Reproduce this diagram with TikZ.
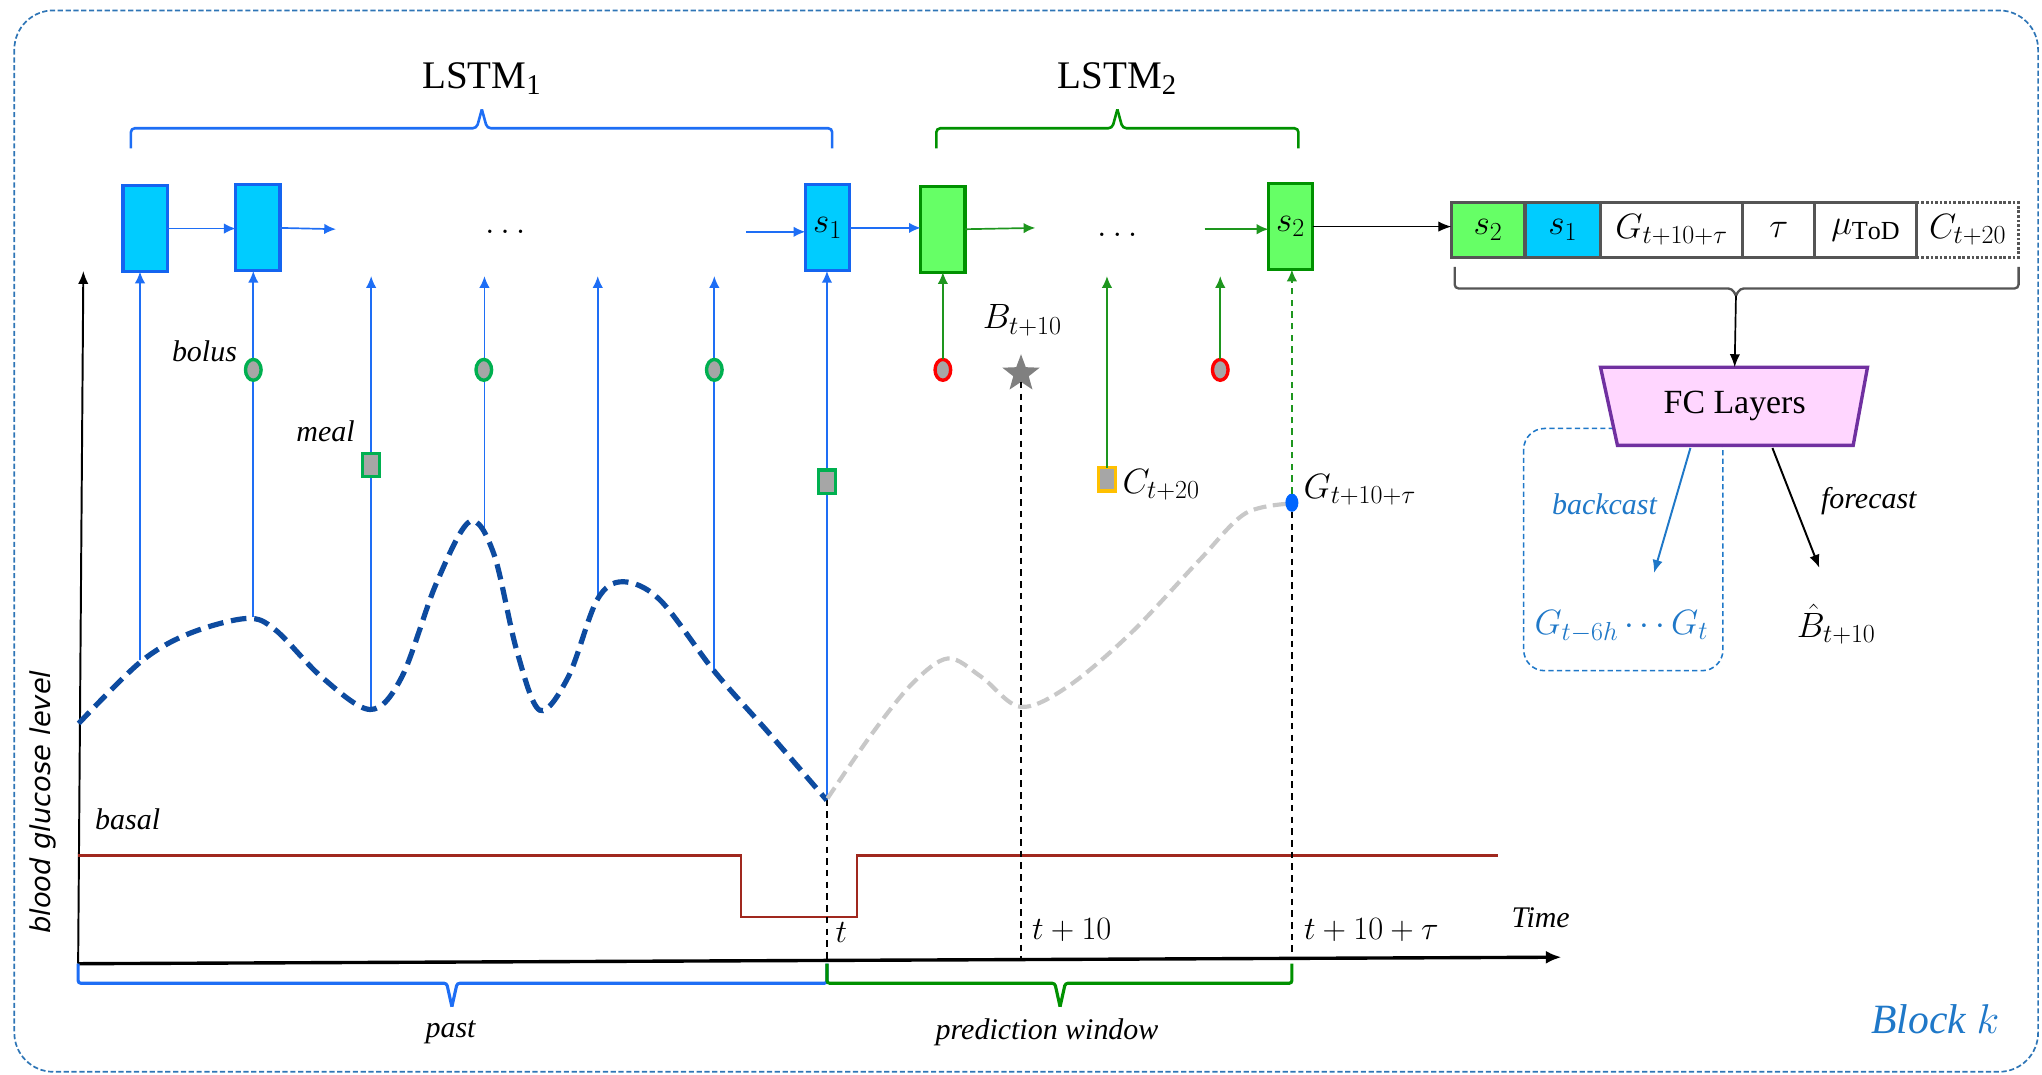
\documentclass[tikz,border=0pt]{standalone}
\usepackage{fix-cm}
\usepackage{fontspec}
\setmainfont{Liberation Serif}
\newfontfamily\dejavu{DejaVu Sans}
\DeclareMathSizes{27}{27}{20}{15}
\DeclareMathSizes{25}{25}{19}{14}
\DeclareMathSizes{30}{30}{22}{16}
\usetikzlibrary{arrows.meta,shapes.geometric,calc}
\definecolor{frameblue}{RGB}{46,117,182}
\definecolor{lineblue}{RGB}{30,110,245}
\definecolor{cellcyan}{RGB}{0,204,255}
\definecolor{boxblue}{RGB}{20,100,240}
\definecolor{cellgreen}{RGB}{102,255,102}
\definecolor{boxgreen}{RGB}{0,145,0}
\definecolor{linegreen}{RGB}{30,150,30}
\definecolor{markgreen}{RGB}{0,176,80}
\definecolor{markgray}{RGB}{166,166,166}
\definecolor{markyellow}{RGB}{255,192,0}
\definecolor{curveblue}{RGB}{13,75,160}
\definecolor{curvegray}{RGB}{200,200,200}
\definecolor{basalred}{RGB}{160,40,30}
\definecolor{fcpurple}{RGB}{112,48,160}
\definecolor{fcpink}{RGB}{255,214,255}
\definecolor{cellborder}{RGB}{85,85,85}
\definecolor{textblue}{RGB}{31,120,200}
\definecolor{dotblue}{RGB}{0,102,255}
\definecolor{stargray}{RGB}{128,128,128}
\begin{document}
\begin{tikzpicture}[x=1pt,y=-1pt,
  every node/.style={inner sep=0pt, outer sep=0pt},
  lstmb/.style={draw=boxblue, fill=cellcyan, line width=2.4pt, minimum width=34pt, minimum height=66pt, font=\fontsize{27}{29}\selectfont},
  lstmg/.style={draw=boxgreen, fill=cellgreen, line width=2.4pt, minimum width=34pt, minimum height=66pt, font=\fontsize{27}{29}\selectfont},
  arrb/.style={draw=lineblue, line width=1.3pt, -{Latex[length=9pt,width=8pt]}},
  arrg/.style={draw=linegreen, line width=1.3pt, -{Latex[length=9pt,width=8pt]}},
  arrk/.style={draw=black, line width=1.3pt, -{Latex[length=10pt,width=8pt]}},
  bolusmk/.style={ellipse, draw=markgreen, fill=markgray, line width=2.6pt, minimum width=12pt, minimum height=16pt},
  bolusred/.style={bolusmk, draw=red},
  mealmk/.style={rectangle, draw=markgreen, fill=markgray, line width=2.6pt, minimum width=13pt, minimum height=18pt},
  carbmk/.style={mealmk, draw=markyellow},
  cell/.style={draw=cellborder, line width=2.4pt, minimum height=42pt, font=\fontsize{27}{29}\selectfont},
  mlbl/.style={font=\fontsize{27}{29}\selectfont},
  tlbl/.style={font=\fontsize{25}{27}\selectfont},
  itl/.style={font=\fontsize{23}{25}\selectfont\itshape},
  bigl/.style={font=\fontsize{30}{32}\selectfont},
  bracketb/.style={draw=lineblue, line width=2pt, rounded corners=3pt},
  bracketg/.style={draw=boxgreen, line width=2pt, rounded corners=3pt},
  kdash/.style={draw=black, line width=1.2pt, dash pattern=on 5pt off 4pt},
]
\useasboundingbox (0,0) rectangle (1568,825);
% outer frame
\draw[frameblue, line width=1.3pt, dash pattern=on 4pt off 2pt, rounded corners=30pt] (11,8) rectangle (1565,823);

% ---- coordinates
\coordinate (O) at (60,740);
\coordinate (ytop) at (64,208);
\coordinate (xend) at (1199,735);
\coordinate (tA) at (635,739);
\coordinate (tB) at (784,737);
\coordinate (tC) at (992,736);
\coordinate (c1) at (107.5,507);
\coordinate (c2) at (194.5,474);
\coordinate (c3) at (285,544);
\coordinate (c4) at (372,410);
\coordinate (c5) at (459,460);
\coordinate (c6) at (548.5,516);
\coordinate (c7) at (635,614);

% ---- LSTM cells
\node[lstmb] (b1) at (111.4,175.5) {};
\node[lstmb] (b2) at (198,175) {};
\node[lstmb] (s1) at (635.4,175) {$s_1$};
\node[lstmg] (g1) at (724,176) {};
\node[lstmg] (s2) at (991,174) {$s_2$};
\coordinate (b2out) at (258,176);
\coordinate (s1in) at (573,178);
\coordinate (g1out) at (795,175);
\coordinate (s2in) at (925,176);
\node[mlbl] (dots1) at (388,178) {$\ldots$};
\node[mlbl] (dots2) at (858,180) {$\ldots$};

\draw[arrb] (b1.east) -- (b1.east -| b2.west);
\draw[arrb] (b2.east) -- (b2out);
\draw[arrb] (s1in) -- (s1in -| s1.west);
\draw[arrb] (s1.east) -- (s1.east -| g1.west);
\draw[arrg] (g1.east) -- (g1out);
\draw[arrg] (s2in) -- (s2in -| s2.west);

% braces on top
\node[bigl] (l1) at (370,60) {LSTM$_{\mathrm{1}}$};
\node[bigl] (l2) at (858,60) {LSTM$_{\mathrm{2}}$};
\draw[bracketb] (100.5,114) -- (100.5,98.5) -- (366,98.5) -- (370,84);
\draw[bracketb] (370,84) -- (374,98.5) -- (639,98.5) -- (639,114);
\draw[bracketg] (719,114) -- (719,98.5) -- (854,98.5) -- (858,84);
\draw[bracketg] (858,84) -- (862,98.5) -- (997,98.5) -- (997,114);

% ---- axes
\draw[black, line width=1.5pt, -{Latex[length=10pt,width=8pt]}] (O) -- (ytop);
\draw[black, line width=2.6pt, -{Latex[length=12pt,width=10pt]}] (O) -- (xend);

% basal
\draw[basalred, line width=2pt] (60,657) -- (569,657) -- (569,704) -- (658,704) -- (658,657) -- (1150,657);

% dashed verticals
\draw[kdash] (c7) -- (tA);

% ---- vertical blue inputs
\draw[arrb] (c1) -- (c1 |- b1.south);
\draw[arrb] (c2) -- (c2 |- b2.south);
\draw[arrb] (c3) -- (285,212);
\draw[arrb] (c4) -- (372,212);
\draw[arrb] (c5) -- (459,212);
\draw[arrb] (c6) -- (548.5,212);
\draw[arrb] (c7) -- (c7 |- s1.south);

% ---- curves
\draw[curveblue, line width=4pt, dash pattern=on 12pt off 6pt] plot[smooth, tension=0.55] coordinates {
 (60.4,555.5) (108,508.2) (145.5,486.4) (189.5,474.9) (211.6,483.8) (246.8,519.7) (284.3,544.8)
 (308.6,519.7) (335,448) (360.6,400.6) (379.1,425) (396.7,499.2) (414.4,545.3) (436.4,519.7)
 (458.4,460.8) (478.3,446.7) (506.9,460.8) (548.8,515.8) (590.7,563.2) (634.8,614.4)};
\draw[curvegray, line width=3.2pt, dash pattern=on 10pt off 5pt] plot[smooth, tension=0.55] coordinates {
 (635.4,613.1) (669.7,563.2) (700.6,524.8) (727.9,505.6) (753.5,519.7) (783.5,542.7)
 (819.6,527.4) (868.1,486.4) (921,430.1) (956.3,394.2) (992.4,386.6)};

% ---- markers past
\node[bolusmk] (bo1) at (194.5,284) {};
\node[bolusmk] (bo2) at (371.5,284) {};
\node[bolusmk] (bo3) at (548.5,284) {};
\node[mealmk] (me1) at (285,357) {};
\node[mealmk] (me2) at (635,370) {};
\node[itl] (bolus) at (157,270) {bolus};
\node[itl] (meal) at (250,331) {meal};

% ---- prediction window inputs
\node[bolusred] (r1) at (724,284) {};
\node[bolusred] (r2) at (937,284) {};
\node[carbmk] (cy) at (850,368) {};
\node[ellipse, fill=dotblue, minimum width=10pt, minimum height=14pt] (dot) at (992,386) {};
\node[star, star points=5, star point ratio=2.4, fill=stargray, minimum size=30pt] (star) at (784,287) {};
\draw[arrg] (r1.north) -- (r1.north |- g1.south);
\draw[arrg] (cy.north) -- (850,212);
\draw[arrg] (r2.north) -- (937,212);
\draw[arrg, dash pattern=on 5pt off 4pt] (dot.north) -- (dot.north |- s2.south);
\draw[kdash] (star.south) -- (tB);
\draw[kdash] (dot.south) -- (tC);

\node[mlbl] (Blbl) at (785,246) {$B_{t+10}$};
\node[mlbl, anchor=west] (Clbl) at (862,372) {$C_{t+20}$};
\node[mlbl, anchor=west] (Glbl) at (1001,376) {$G_{t+10+\tau}$};

% axis labels
\node[font=\fontsize{21}{23}\selectfont\dejavu\itshape, rotate=90] (ylbl) at (33,616) {blood glucose level};
\node[itl] (basal) at (98,629) {basal};
\node[itl] (time) at (1183,705) {Time};
\node[tlbl] (tl) at (646,716) {$t$};
\node[tlbl] (t10) at (823,714) {$t+10$};
\node[tlbl] (t10tau) at (1053,714) {$t+10+\tau$};

% bottom braces
\draw[draw=lineblue, line width=2.4pt, rounded corners=2pt] (60,740) -- (60,755) -- (343,755) -- (347,773);
\draw[draw=lineblue, line width=2.4pt, rounded corners=2pt] (347,773) -- (351,755) -- (635,755) -- (635,740);
\draw[draw=boxgreen, line width=2.4pt, rounded corners=2pt] (635,740) -- (635,755) -- (810,755) -- (814,773);
\draw[draw=boxgreen, line width=2.4pt, rounded corners=2pt] (814,773) -- (818,755) -- (992,755) -- (992,740);
\node[itl] (past) at (346,793) {past};
\node[itl] (pw) at (804,793) {prediction window};
\node[font=\fontsize{32}{34}\selectfont\itshape, text=textblue] (blk) at (1486,783) {Block $k$};

% ---- vector
\node[cell, dash pattern=on 2pt off 1.5pt, minimum width=78pt] (vc) at (1510.9,176.6) {$C_{t+20}$};
\node[cell, fill=cellgreen, minimum width=56.6pt] (vs2) at (1142.7,176.6) {$s_2$};
\node[cell, fill=cellcyan, minimum width=58pt] (vs1) at (1200,176.6) {$s_1$};
\node[cell, minimum width=109pt] (vg) at (1283.6,176.6) {$G_{t+10+\tau}$};
\node[cell, minimum width=55.4pt] (vt) at (1365.9,176.6) {$\tau$};
\node[cell, minimum width=78.3pt] (vm) at (1432.7,176.6) {$\mu_{\mathrm{ToD}}$};
\draw[draw=black, line width=0.9pt, -{Latex[length=10pt,width=8pt]}] (s2.east) -- (s2.east -| vs2.west);

% brace under vector
\coordinate (vtip) at (1333,227);
\draw[draw=cellborder, line width=1.8pt, rounded corners=3pt] (1117,205) -- (1117,221.5) -- (1330,221.5) -- (vtip);
\draw[draw=cellborder, line width=1.8pt, rounded corners=3pt] (vtip) -- (1336,221.5) -- (1550,221.5) -- (1550,205);

% backcast dashed box
\draw[draw=textblue, line width=1.2pt, dash pattern=on 4pt off 2.5pt, rounded corners=16pt] (1170,329) rectangle (1323,515);

% FC layers
\draw[draw=fcpurple, fill=fcpink, line width=2.6pt] (1229,282) -- (1434,282) -- (1423,342) -- (1242,342) -- cycle;
\node[font=\fontsize{26}{28}\selectfont, minimum width=181pt, minimum height=60pt] (fc) at (1332,312) {FC Layers};
\draw[arrk] (vtip) -- (fc.north);

\coordinate (bcs) at (1298,344);
\coordinate (bce) at (1270,440);
\coordinate (fcs) at (1361,344);
\coordinate (fce) at (1397,436);
\draw[draw=textblue, line width=1.5pt, -{Latex[length=10pt,width=8pt]}] (bcs) -- (bce);
\draw[draw=black, line width=1.5pt, -{Latex[length=10pt,width=8pt]}] (fcs) -- (fce);
\node[itl, text=textblue] (bclbl) at (1232,387) {backcast};
\node[itl] (fclbl) at (1435,385) {forecast};
\node[mlbl, text=textblue] (gout) at (1245,481) {$G_{t-6h}\cdots G_t$};
\node[mlbl] (bout) at (1410,479) {$\hat{B}_{t+10}$};
\end{tikzpicture}
\end{document}
